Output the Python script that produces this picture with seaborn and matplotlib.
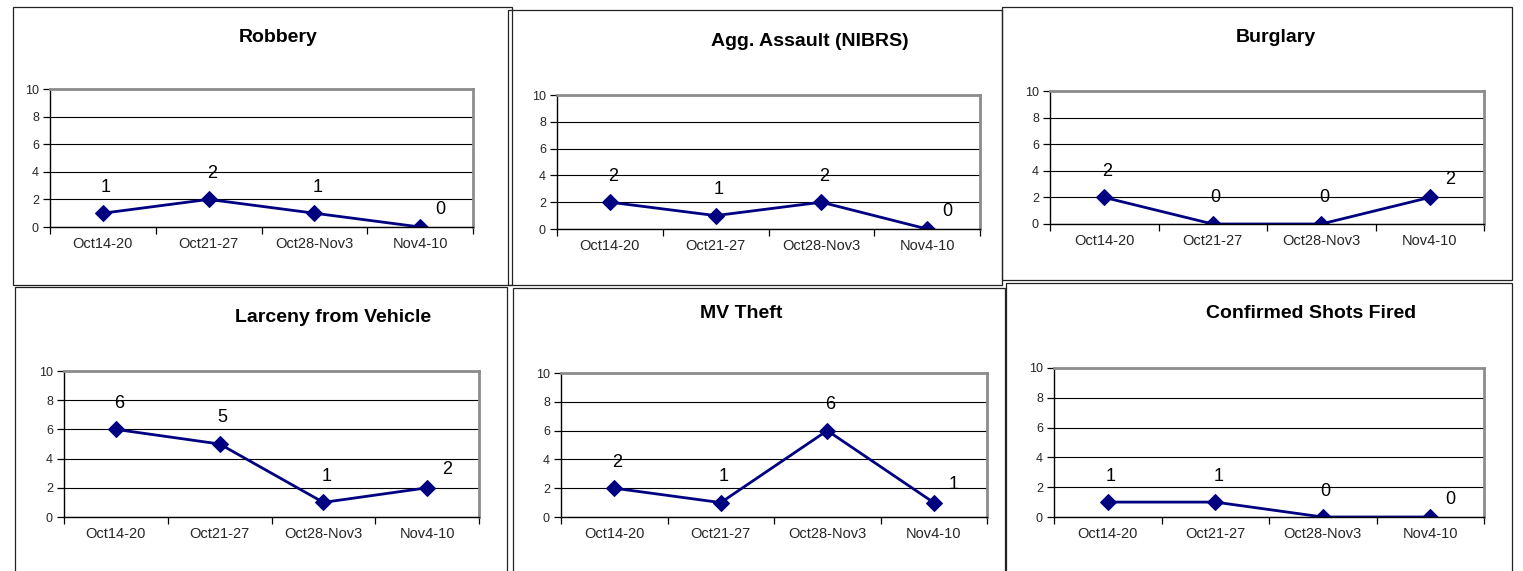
import matplotlib
matplotlib.use("Agg")
import matplotlib.pyplot as plt
import seaborn as sns
import pandas as pd
from matplotlib.patches import Rectangle

weeks = ["Oct14-20", "Oct21-27", "Oct28-Nov3", "Nov4-10"]
titles = ["Robbery", "Agg. Assault (NIBRS)", "Burglary",
          "Larceny from Vehicle", "MV Theft", "Confirmed Shots Fired"]
robbery = [1, 2, 1, 0]
agg_assault = [2, 1, 2, 0]
burglary = [2, 0, 0, 2]
larceny_vehicle = [6, 5, 1, 2]
mv_theft = [2, 1, 6, 1]
shots_fired = [1, 1, 0, 0]
series = [robbery, agg_assault, burglary, larceny_vehicle, mv_theft, shots_fired]

W, H = 1523, 571
# pixel layout: outer chart box, plot area (l, t, r, b) and title centre
boxes = [(13, 7, 512, 285), (508, 10, 1002, 285), (1002, 7, 1512, 280),
         (15, 287, 507, 573), (513, 288, 1005, 573), (1006, 283, 1512, 573)]
plots = [(50, 89, 473, 227), (557, 95, 980, 229), (1050, 91, 1484, 224),
         (64, 371, 479, 517), (561, 373, 987, 517), (1054, 368, 1484, 517)]
title_pos = [(278, 37), (810, 42), (1276, 37), (333, 317), (741, 313), (1311, 314)]

sns.set_theme(style="white")
plt.rcParams['font.family'] = ['Liberation Sans', 'DejaVu Sans']

fig = plt.figure(figsize=(W / 100, H / 100), dpi=100)
navy = "#000080"

for k in range(6):
    bl, bt, br, bb = boxes[k]
    fig.patches.append(Rectangle((bl / W, 1 - bb / H), (br - bl) / W, (bb - bt) / H,
                                 transform=fig.transFigure, fill=False,
                                 edgecolor="#222222", linewidth=0.9))
    pl, pt, pr, pb = plots[k]
    ax = fig.add_axes([pl / W, 1 - pb / H, (pr - pl) / W, (pb - pt) / H])

    df = pd.DataFrame({"week": weeks, "count": series[k]})
    sns.lineplot(data=df, x="week", y="count", ax=ax, color=navy, marker="D",
                 markersize=8, linewidth=2, markeredgecolor=navy)

    ax.set_xlim(-0.5, 3.5)
    ax.set_ylim(0, 10)
    ax.set_yticks(range(0, 11, 2))
    ax.set_xticks(range(4))
    ax.set_xticklabels(weeks)
    ax.set_xticks([-0.5, 0.5, 1.5, 2.5, 3.5], minor=True)
    ax.tick_params(axis="x", which="major", length=0, labelsize=10.5, pad=7)
    ax.tick_params(axis="x", which="minor", length=5, width=0.9, color="black",
                   direction="out", bottom=True)
    ax.tick_params(axis="y", length=5, width=0.9, color="black", direction="out",
                   labelsize=9, pad=3, left=True)
    ax.set_xlabel("")
    ax.set_ylabel("")
    ax.yaxis.grid(True, color="black", linewidth=0.8)
    ax.set_axisbelow(True)
    for side in ["top", "right"]:
        ax.spines[side].set_color("#8c8c8c")
        ax.spines[side].set_linewidth(2)
    for side in ["left", "bottom"]:
        ax.spines[side].set_color("black")
        ax.spines[side].set_linewidth(1)

    for i, v in enumerate(series[k]):
        last = i == len(series[k]) - 1
        ax.annotate(str(v), (i, v), xytext=(20 if last else 3, 18 if last else 26),
                    textcoords="offset pixels", ha="center", va="center",
                    fontsize=13, color="black", zorder=5)

    tx, ty = title_pos[k]
    fig.text(tx / W, 1 - ty / H, titles[k], ha="center", va="center",
             fontsize=14, fontweight="bold", color="black")

fig.savefig("out.png", dpi=100, facecolor="white")
